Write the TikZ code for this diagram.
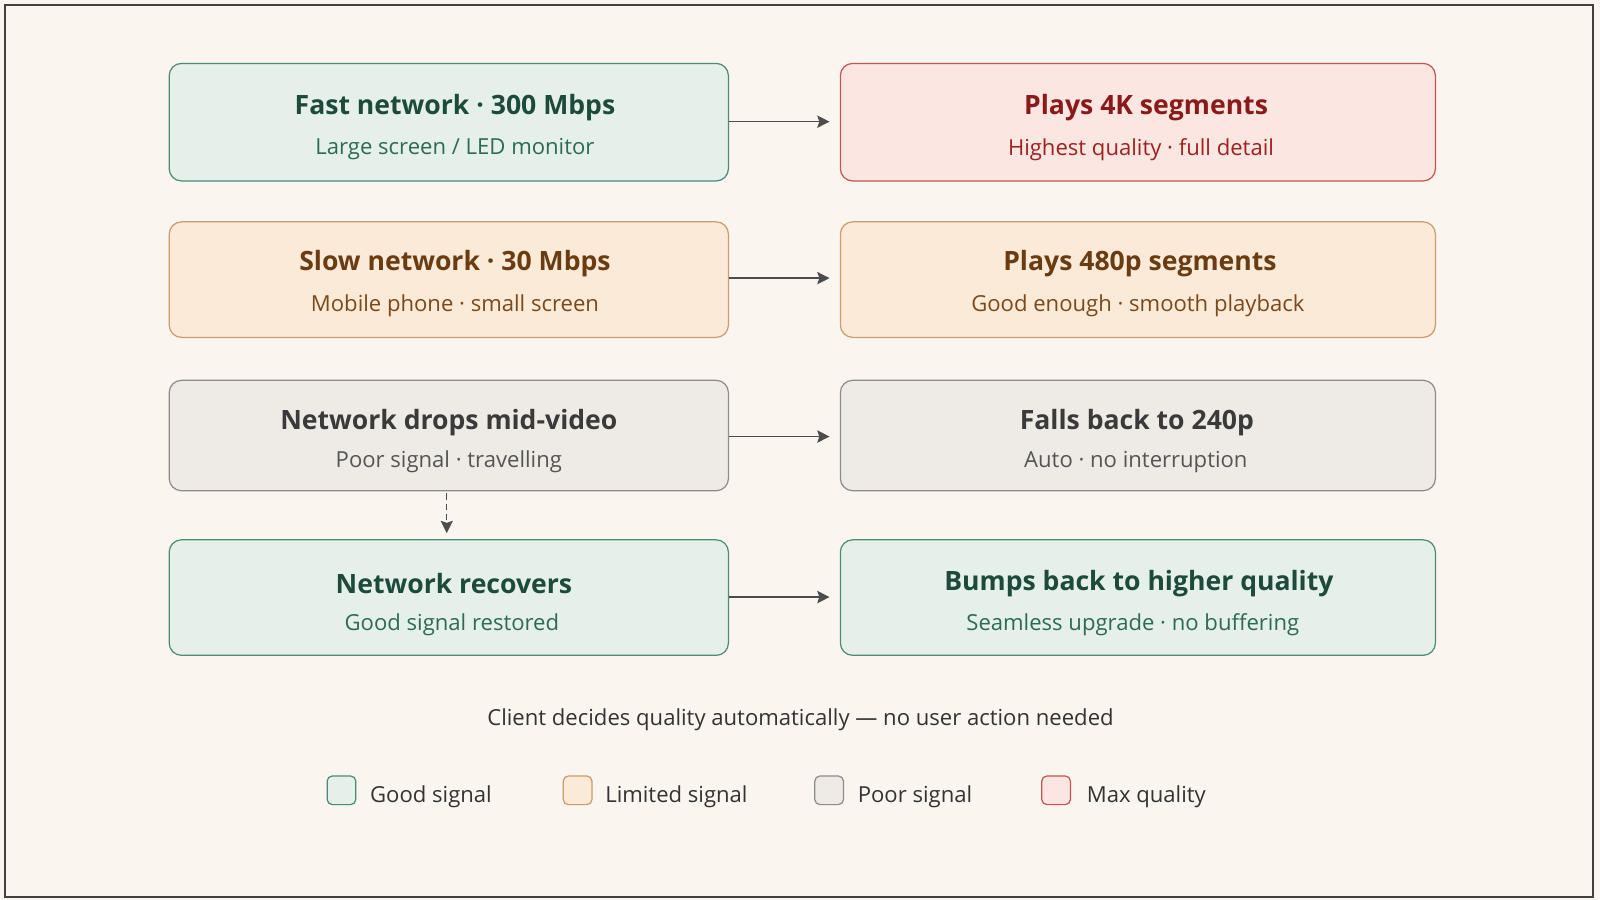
\documentclass[tikz,border=0pt]{standalone}
\usepackage{fontspec}
\setmainfont{Open Sans}
\usetikzlibrary{arrows.meta}
\definecolor{bg}{HTML}{FAF5EF}
\definecolor{gF}{HTML}{E5F0EA}\definecolor{gD}{HTML}{4F8A78}\definecolor{gT}{HTML}{1D4A3B}\definecolor{gS}{HTML}{2E6A56}
\definecolor{oF}{HTML}{FBEAD8}\definecolor{oD}{HTML}{C99D6C}\definecolor{oT}{HTML}{6A3C12}\definecolor{oS}{HTML}{7A4A1C}
\definecolor{yF}{HTML}{EEEBE7}\definecolor{yD}{HTML}{8C8C8C}\definecolor{yT}{HTML}{3A3A3A}\definecolor{yS}{HTML}{555555}
\definecolor{rF}{HTML}{FBE6E2}\definecolor{rD}{HTML}{C55555}\definecolor{rT}{HTML}{8A1A1A}\definecolor{rS}{HTML}{9E2222}
\begin{document}
\begin{tikzpicture}[x=0.5pt,y=-0.5pt,
 box/.style={draw,line width=0.6pt,rounded corners=6pt},
 ttl/.style={font=\fontsize{13}{15}\selectfont\bfseries},
 sub/.style={font=\fontsize{10.8}{13}\selectfont},
 arr/.style={draw=black!70,line width=0.8pt,-{Stealth[length=6pt,width=6pt,inset=1pt]}},
 lg/.style={draw,line width=0.6pt,rounded corners=2.5pt,minimum size=14pt,inner sep=0pt}]
\fill[bg] (0,0) rectangle (1565,880);
\draw[black!75,line width=1pt] (5,5) rectangle (1558,877);
\node[box,draw=gD,fill=gF,minimum width=273.5pt,minimum height=57.5pt] (L1) at (439,119.5) {};
\node[box,draw=oD,fill=oF,minimum width=273.5pt,minimum height=56.5pt] (L2) at (439,273.5) {};
\node[box,draw=yD,fill=yF,minimum width=273.5pt,minimum height=54pt] (L3) at (439,426) {};
\node[box,draw=gD,fill=gF,minimum width=273.5pt,minimum height=56.5pt] (L4) at (439,584.5) {};
\node[box,draw=rD,fill=rF,minimum width=291pt,minimum height=57.5pt] (R1) at (1113,119.5) {};
\node[box,draw=oD,fill=oF,minimum width=291pt,minimum height=56.5pt] (R2) at (1113,273.5) {};
\node[box,draw=yD,fill=yF,minimum width=291pt,minimum height=54pt] (R3) at (1113,426) {};
\node[box,draw=gD,fill=gF,minimum width=291pt,minimum height=56.5pt] (R4) at (1113,584.5) {};
\node[ttl,text=gT] (l1t) at (445,105) {Fast network · 300 Mbps};
\node[sub,text=gS] (l1s) at (445,146) {Large screen / LED monitor};
\node[ttl,text=oT] (l2t) at (445,258) {Slow network · 30 Mbps};
\node[sub,text=oS] (l2s) at (445,299) {Mobile phone · small screen};
\node[ttl,text=yT] (l3t) at (439,413) {Network drops mid-video};
\node[sub,text=yS] (l3s) at (439,452) {Poor signal · travelling};
\node[ttl,text=gT] (l4t) at (444,571) {Network recovers};
\node[sub,text=gS] (l4s) at (442,611) {Good signal restored};
\node[ttl,text=rT] (r1t) at (1121,105) {Plays 4K segments};
\node[sub,text=rS] (r1s) at (1116,146) {Highest quality · full detail};
\node[ttl,text=oT] (r2t) at (1115,258) {Plays 480p segments};
\node[sub,text=oS] (r2s) at (1113,299) {Good enough · smooth playback};
\node[ttl,text=yT] (r3t) at (1112,413) {Falls back to 240p};
\node[sub,text=yS] (r3s) at (1111,452) {Auto · no interruption};
\node[ttl,text=gT] (r4t) at (1114,571) {Bumps back to higher quality};
\node[sub,text=gS] (r4s) at (1108,611) {Seamless upgrade · no buffering};
\draw[arr] (L1.east|-0,119) -- ([xshift=-5pt]R1.west|-0,119);
\draw[arr] (L2.east|-0,272) -- ([xshift=-5pt]R2.west|-0,272);
\draw[arr] (L3.east|-0,427) -- ([xshift=-5pt]R3.west|-0,427);
\draw[arr] (L4.east|-0,584) -- ([xshift=-5pt]R4.west|-0,584);
\coordinate (dx) at (437,0);
\draw[arr,dash pattern=on 3pt off 2pt,line width=0.6pt] ([yshift=-1pt]L3.south-|dx) -- ([yshift=3pt]L4.north-|dx);
\node[sub,text=black!80] (foot) at (783,704) {Client decides quality automatically — no user action needed};
\node[lg,draw=gD,fill=gF] (k1) at (334,773) {};
\node[sub,text=black!80,anchor=west] (k1l) at (355,779) {Good signal};
\node[lg,draw=oD,fill=oF] (k2) at (565,773) {};
\node[sub,text=black!80,anchor=west] (k2l) at (585,779) {Limited signal};
\node[lg,draw=yD,fill=yF] (k3) at (811,773) {};
\node[sub,text=black!80,anchor=west] (k3l) at (832,779) {Poor signal};
\node[lg,draw=rD,fill=rF] (k4) at (1033,773) {};
\node[sub,text=black!80,anchor=west] (k4l) at (1056,779) {Max quality};
\end{tikzpicture}
\end{document}
